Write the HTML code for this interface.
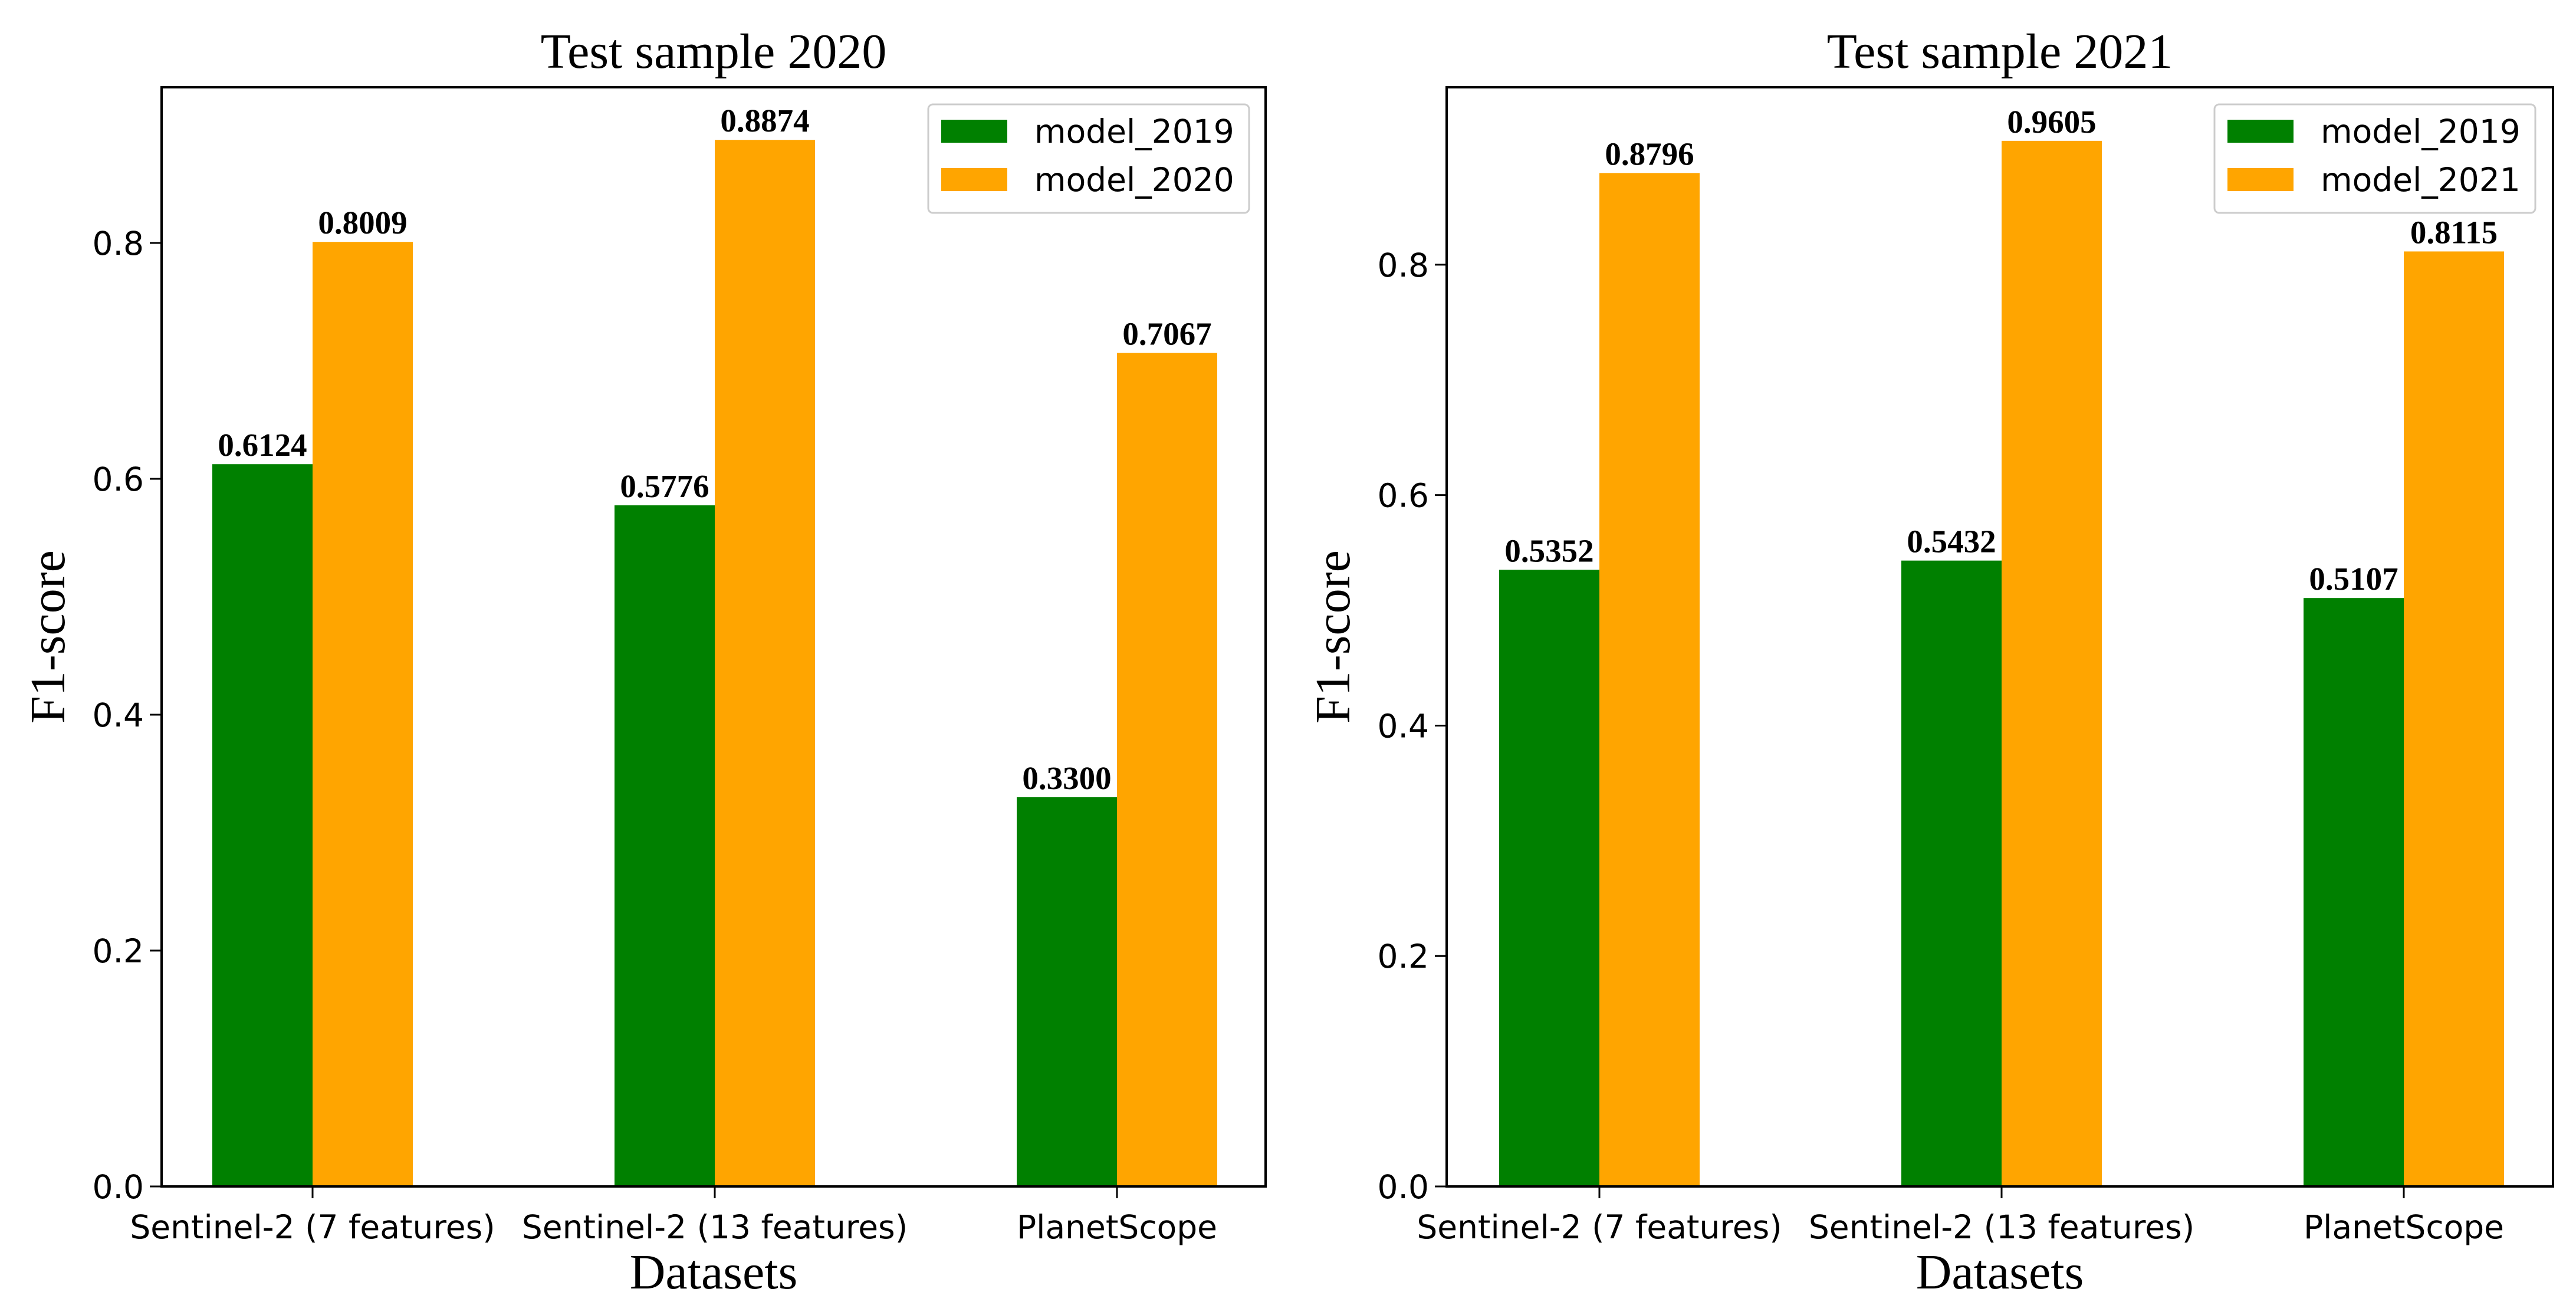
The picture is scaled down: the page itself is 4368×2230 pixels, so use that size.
<!DOCTYPE html>
<html><head><meta charset="utf-8"><style>
html,body{margin:0;padding:0;background:#fff;}
svg{display:block;}
.tick{font-family:"DejaVu Sans",sans-serif;font-size:55px;fill:#000;}
.ttl{font-family:"Liberation Serif",serif;font-size:84px;fill:#000;}
.lab{font-family:"Liberation Serif",serif;font-size:84px;fill:#000;}
.val{font-family:"Liberation Serif",serif;font-size:55px;font-weight:bold;fill:#000;}
.leg{font-family:"DejaVu Sans",sans-serif;font-size:55px;fill:#000;}
</style></head><body>
<svg id="fig" width="4368" height="2230" viewBox="0 0 4368 2230" xmlns="http://www.w3.org/2000/svg"></svg>
<script>
const categories = ["Sentinel-2 (7 features)", "Sentinel-2 (13 features)", "PlanetScope"];
const left2019 = [0.6124, 0.5776, 0.3300];
const left2020 = [0.8009, 0.8874, 0.7067];
const right2019 = [0.5352, 0.5432, 0.5107];
const right2021 = [0.8796, 0.9075, 0.8115];
const right2021Labels = ["0.8796", "0.9605", "0.8115"];
const yTicks = [0.0, 0.2, 0.4, 0.6, 0.8];
const titles = ["Test sample 2020", "Test sample 2021"];
const legendLeft = ["model_2019", "model_2020"];
const legendRight = ["model_2019", "model_2021"];

const NS = "http://www.w3.org/2000/svg";
const svg = document.getElementById('fig');
function mk(tag, attrs, parent) {
  const e = document.createElementNS(NS, tag);
  for (const k in attrs) e.setAttribute(k, attrs[k]);
  (parent || svg).appendChild(e);
  return e;
}
function panel(p) {
  const g = mk('g', {});
  
  
  const yS = v => p.y0 - (v / p.ymax) * (p.y0 - p.y1);
  const xC = i => p.xFirst + i * p.step;
  const bw = p.bw;
  p.s1.forEach((v, i) => {
    const r = mk('rect', {x: xC(i) - bw, y: yS(v), width: bw, height: p.y0 - yS(v), fill: '#008000'}, g);
    
    
    const t = mk('text', {x: xC(i) - bw / 2, y: yS(v) - 14, 'text-anchor': 'middle', class: 'val'}, g);
    t.textContent = v.toFixed(4);
    
    
  });
  p.s2.forEach((v, i) => {
    const r = mk('rect', {x: xC(i), y: yS(v), width: bw, height: p.y0 - yS(v), fill: '#ffa500'}, g);
    
    
    const t = mk('text', {x: xC(i) + bw / 2, y: yS(v) - 14, 'text-anchor': 'middle', class: 'val'}, g);
    t.textContent = p.labels2 ? p.labels2[i] : v.toFixed(4);
    
    
  });
  const f = mk('rect', {x: p.x0, y: p.y1, width: p.x1 - p.x0, height: p.y0 - p.y1, fill: 'none', stroke: '#000', 'stroke-width': 4}, g);
  
  
  yTicks.forEach(v => {
    mk('line', {x1: p.x0 - 20, x2: p.x0, y1: yS(v), y2: yS(v), stroke: '#000', 'stroke-width': 3}, g);
    const t = mk('text', {x: p.x0 - 30, y: yS(v) + 20, 'text-anchor': 'end', class: 'tick'}, g);
    t.textContent = v.toFixed(1);
    
    
  });
  categories.forEach((c, i) => {
    mk('line', {x1: xC(i), x2: xC(i), y1: p.y0, y2: p.y0 + 20, stroke: '#000', 'stroke-width': 3}, g);
    const t = mk('text', {x: xC(i), y: p.y0 + 88, 'text-anchor': 'middle', class: 'tick'}, g);
    t.textContent = c;
    
    
  });
  const tt = mk('text', {x: (p.x0 + p.x1) / 2, y: 115, 'text-anchor': 'middle', class: 'ttl'}, g);
  tt.textContent = p.title;
  
  
  const xl = mk('text', {x: (p.x0 + p.x1) / 2, y: 2185, 'text-anchor': 'middle', class: 'lab'}, g);
  xl.textContent = 'Datasets';
  
  
  const yl = mk('text', {x: 0, y: 0, 'text-anchor': 'middle', class: 'lab', transform: 'translate(' + (p.x0 - 165) + ',' + ((p.y0 + p.y1) / 2) + ') rotate(-90)'}, g);
  yl.textContent = 'F1-score';
  
  
  const lg = mk('g', {}, g);
  
  
  mk('rect', {x: p.lx, y: 177, width: 544, height: 184, rx: 8, fill: '#fff', stroke: '#ccc', 'stroke-width': 3}, lg);
  const cols = ['#008000', '#ffa500'];
  p.legend.forEach((s, k) => {
    mk('rect', {x: p.lx + 22, y: 203 + k * 82, width: 112, height: 39, fill: cols[k]}, lg);
    const t = mk('text', {x: p.lx + 180, y: 242 + k * 82, class: 'leg'}, lg);
    t.textContent = s;
    
    
  });
}
panel({name: 'chart-2020', year: 2020, x0: 274, x1: 2146, y0: 2012, y1: 148, ymax: 0.932, xFirst: 530, step: 682, bw: 170,
  s1: left2019, s2: left2020, title: titles[0], legend: legendLeft, lx: 1574});
panel({name: 'chart-2021', year: 2021, x0: 2453, x1: 4329, y0: 2012, y1: 148, ymax: 0.954, xFirst: 2712, step: 682, bw: 170,
  s1: right2019, s2: right2021, labels2: right2021Labels, title: titles[1], legend: legendRight, lx: 3755});
</script>
</body></html>
